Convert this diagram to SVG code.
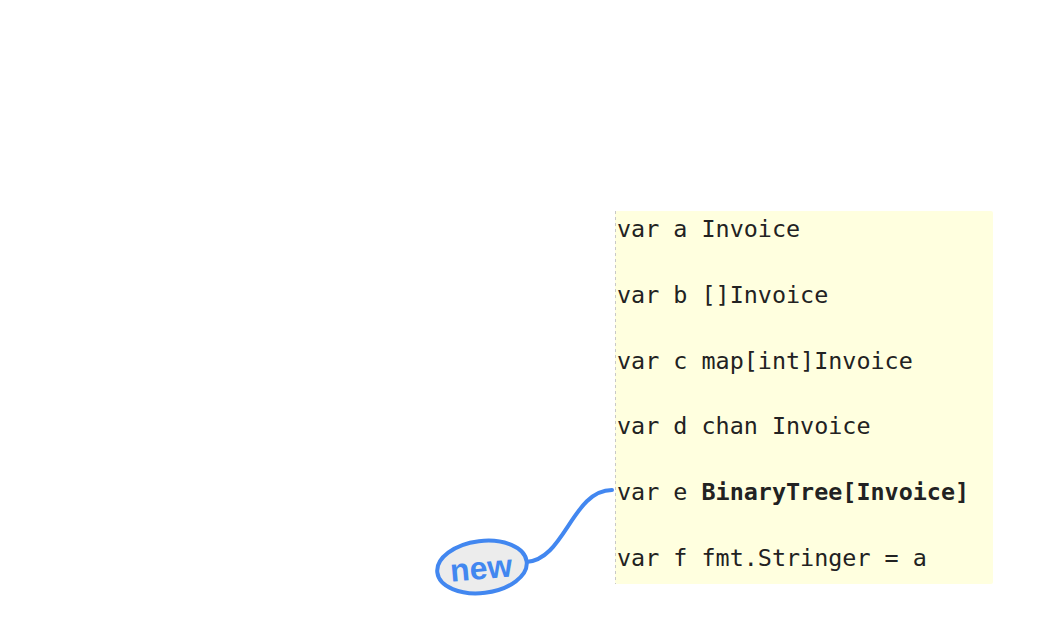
<svg xmlns="http://www.w3.org/2000/svg" width="1045" height="633" viewBox="0 0 1045 633">
<style>
.code{font-family:"DejaVu Sans Mono","Liberation Mono",monospace;font-size:23.4px;fill:#222;}
.b{font-weight:bold;}
.conn{fill:none;stroke:#4287f0;stroke-width:4;stroke-linecap:round;}
</style>
<rect width="1045" height="633" fill="#ffffff"/>
<g id="connectors">
<path class="conn" d="M 526 562 C 565 560, 572 490, 612 490"/>
</g>
<g id="panel">
<rect x="615" y="211" width="378" height="373" rx="2" fill="#ffffdf"/>
<line x1="615.5" y1="211" x2="615.5" y2="584" stroke="#c8c8c8" stroke-width="1" stroke-dasharray="3,3"/>
<text class="code" x="617" y="237">var a Invoice</text>
<text class="code" x="617" y="303">var b []Invoice</text>
<text class="code" x="617" y="368.5">var c map[int]Invoice</text>
<text class="code" x="617" y="434">var d chan Invoice</text>
<text class="code" x="617" y="500">var e <tspan class="b">BinaryTree[Invoice]</tspan></text>
<text class="code" x="617" y="565.5">var f fmt.Stringer = a</text>
</g>
<g id="new">
<ellipse cx="482" cy="567" rx="45" ry="26" transform="rotate(-7 482 567)" fill="#ececec" stroke="#4287f0" stroke-width="4"/>
<text x="481" y="579" transform="rotate(-5 481 568)" text-anchor="middle" font-family="Liberation Sans, Arial, sans-serif" font-weight="bold" font-size="32" fill="#4287f0">new</text>
</g>
</svg>
